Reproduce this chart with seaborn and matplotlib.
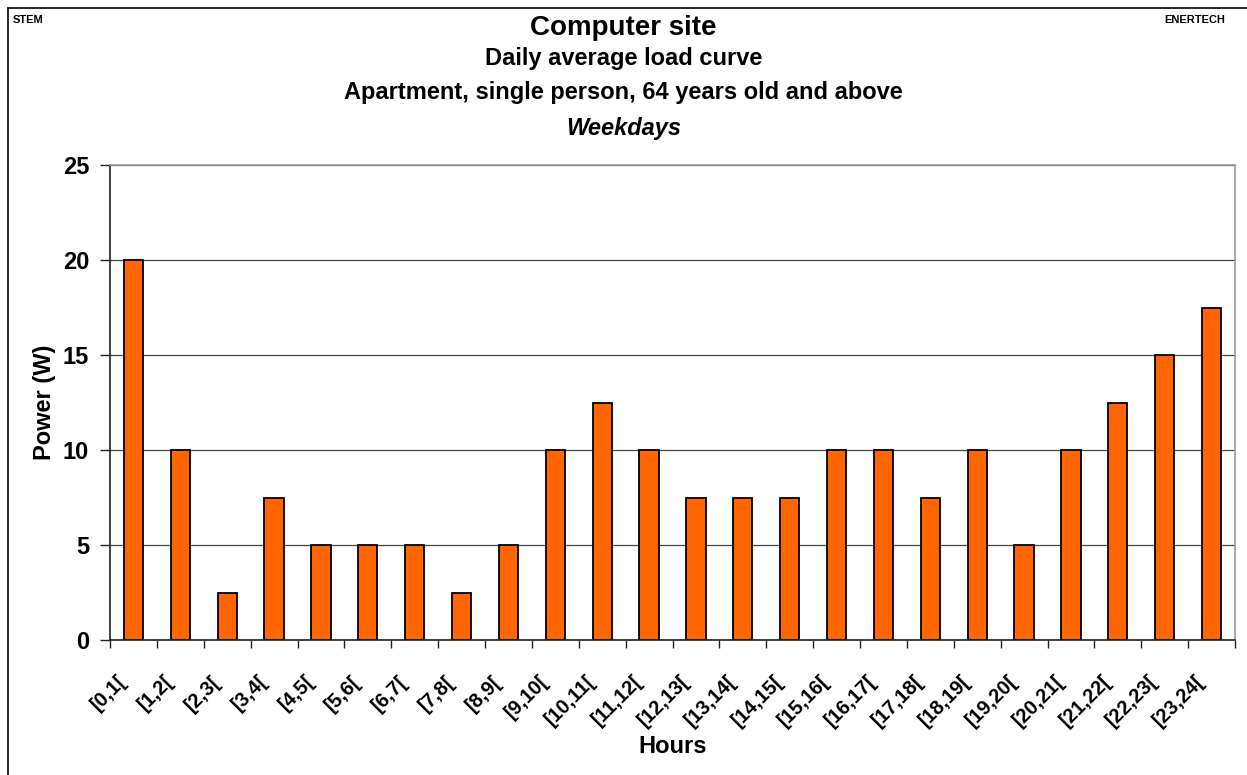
import matplotlib.pyplot as plt
import matplotlib.transforms as mtransforms
import seaborn as sns
import numpy as np
from matplotlib.lines import Line2D

hours = ["[0,1[", "[1,2[", "[2,3[", "[3,4[", "[4,5[", "[5,6[", "[6,7[", "[7,8[",
         "[8,9[", "[9,10[", "[10,11[", "[11,12[", "[12,13[", "[13,14[", "[14,15[",
         "[15,16[", "[16,17[", "[17,18[", "[18,19[", "[19,20[", "[20,21[", "[21,22[",
         "[22,23[", "[23,24["]
power = [20, 10, 2.5, 7.5, 5, 5, 5, 2.5, 5, 10, 12.5, 10, 7.5, 7.5, 7.5,
         10, 10, 7.5, 10, 5, 10, 12.5, 15, 17.5]
y_ticks = [0, 5, 10, 15, 20, 25]

sns.set_style("white")
plt.rcParams["font.family"] = ["Liberation Sans", "DejaVu Sans"]
plt.rcParams["font.weight"] = "bold"
plt.rcParams["text.color"] = "black"
plt.rcParams["axes.labelcolor"] = "black"
plt.rcParams["xtick.color"] = "black"
plt.rcParams["ytick.color"] = "black"

fig = plt.figure(figsize=(12.47, 7.75), dpi=100)
ax = fig.add_axes([110/1247, 1-640/775, 1125/1247, 475/775])

sns.barplot(x=hours, y=power, color="#FF6600", width=0.41,
            edgecolor="black", linewidth=1.3, saturation=1, ax=ax)

ax.set_xlim(-0.5, 23.5)
ax.set_ylim(0, 25)
ax.set_yticks(y_ticks)
ax.yaxis.grid(True, color="#444444", linewidth=0.9)
ax.set_axisbelow(True)

for side in ["top", "right"]:
    ax.spines[side].set_color("#999999")
    ax.spines[side].set_linewidth(1.2)
for side in ["left", "bottom"]:
    ax.spines[side].set_color("#222222")
    ax.spines[side].set_linewidth(1.2)

ax.tick_params(axis="y", length=7, width=1, direction="out", left=True,
               labelsize=17, pad=8, color="#222222")
ax.set_yticklabels([str(v) for v in y_ticks], fontweight="bold")
ax.set_xticks(np.arange(24))
ax.set_xticklabels(hours, rotation=45, ha="right", va="center",
                   rotation_mode="anchor", fontsize=14.5, fontweight="bold")
ax.tick_params(axis="x", which="major", length=0, pad=22)
ax.set_xticks(np.arange(-0.5, 24, 1), minor=True)
ax.tick_params(axis="x", which="minor", length=6, width=1, direction="out",
               bottom=True, color="#222222")

# nudge rotated labels left/down like the original
offset = mtransforms.ScaledTranslation(-0.1, -0.08, fig.dpi_scale_trans)
for lbl in ax.get_xticklabels():
    lbl.set_transform(lbl.get_transform() + offset)

ax.set_xlabel("Hours", fontsize=17, fontweight="bold", labelpad=3)
ax.set_ylabel("Power (W)", fontsize=17, fontweight="bold", labelpad=5)

fig.text(0.5, 1-28/775, "Computer site", ha="center", va="center",
         fontsize=20, fontweight="bold")
fig.text(0.5, 1-58/775, "Daily average load curve", ha="center", va="center",
         fontsize=17, fontweight="bold")
fig.text(0.5, 1-92/775, "Apartment, single person, 64 years old and above",
         ha="center", va="center", fontsize=17, fontweight="bold")
fig.text(0.5, 1-128/775, "Weekdays", ha="center", va="center",
         fontsize=17, fontweight="bold", style="italic")
fig.text(13/1247, 1-20/775, "STEM", ha="left", va="center",
         fontsize=8, fontweight="bold")
fig.text(1225/1247, 1-20/775, "ENERTECH", ha="right", va="center",
         fontsize=8, fontweight="bold")

# outer frame (top and left edges visible)
fig.add_artist(Line2D([8/1247, 1], [1-8/775, 1-8/775], color="black",
                      linewidth=1.2, transform=fig.transFigure))
fig.add_artist(Line2D([8/1247, 8/1247], [0, 1-8/775], color="black",
                      linewidth=1.2, transform=fig.transFigure))

plt.savefig("out.png", dpi=100)
